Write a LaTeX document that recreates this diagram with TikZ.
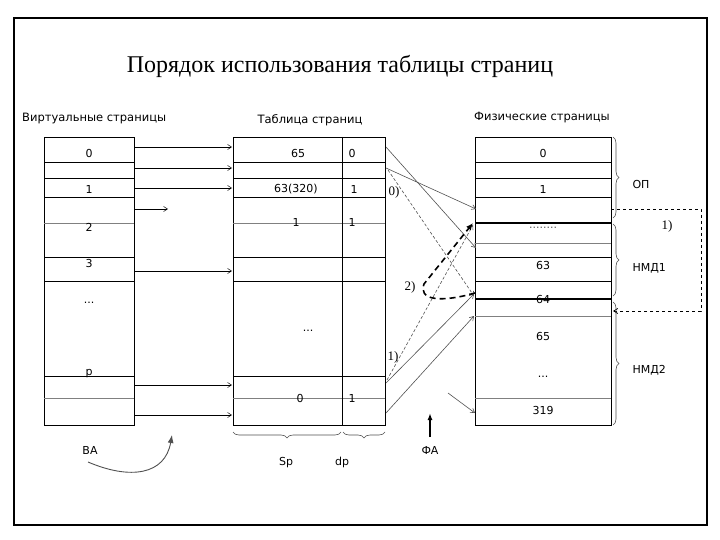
\documentclass[tikz,border=0pt]{standalone}
\usepackage{fontspec}
\setmainfont{DejaVu Sans}
\newfontfamily\titlefont{Liberation Serif}
\usetikzlibrary{positioning, arrows.meta, decorations.pathreplacing}
\definecolor{linegray}{HTML}{505050}

\begin{document}
\begin{tikzpicture}[x=1pt, y=-1pt, font=\fontsize{11}{13}\selectfont,
    row/.style={line width=0.9pt},
    thinrow/.style={line width=0.5pt, gray},
    boldrow/.style={line width=2.6pt},
    lbl/.style={inner sep=0pt, font=\titlefont\fontsize{13}{15}\selectfont},
    link/.style={-{Straight Barb[length=4pt, width=5pt]}, line width=0.5pt},
    cross/.style={-{Straight Barb[length=4pt, width=5pt]}, line width=0.6pt, linegray},
    crossdash/.style={cross, dash pattern=on 3pt off 2pt},
    brc/.style={decorate, decoration={brace, amplitude=6pt}, linegray, line width=0.6pt}]

  \useasboundingbox (0,0) rectangle (720,540);
  \draw[line width=1.2pt] (14,18) rectangle (707,525);

  \node[font=\titlefont\fontsize{24}{28}\selectfont] (title) at (340,66) {Порядок использования таблицы страниц};

  \node[anchor=west, inner sep=0pt, font=\fontsize{11.5}{13}\selectfont] (hvirt) at (22,119) {Виртуальные страницы};
  \node[font=\fontsize{11.5}{13}\selectfont] (htab) at (310,120) {Таблица страниц};
  \node[font=\fontsize{11.5}{13}\selectfont] (hphys) at (542,118) {Физические страницы};

  % virtual pages and page table share the same rows
  \foreach \xa/\xb in {44/134, 233/385}{
    \draw[row] (\xa,137) rectangle (\xb,425);
    \foreach \y in {162,178,197,257,281,376} \draw[row] (\xa,\y) -- (\xb,\y);
    \foreach \y in {223,398} \draw[thinrow] (\xa,\y) -- (\xb,\y);
  }
  \draw[line width=0.6pt] (342,137) -- (342,425);

  \node (vp0) at (89,153) {0};
  \node (vp1) at (89,189) {1};
  \node (vp2) at (89,227) {2};
  \node (vp3) at (89,263) {3};
  \node (vpdots) at (89,303) {...};
  \node (vpp) at (89,374) {p};

  \node (sp0) at (298,153) {65};
  \node (dp0) at (352,153) {0};
  \node (sp1) at (296,189) {63(320)};
  \node (dp1) at (354,189) {1};
  \node (sp2) at (296,222) {1};
  \node (dp2) at (352,222) {1};
  \node (spdots) at (308,331) {...};
  \node (spp) at (300,398) {0};
  \node (dpp) at (352,398) {1};

  % physical pages
  \draw[row] (475,137) rectangle (611,425);
  \foreach \y in {162,178,197,257,281} \draw[row] (475,\y) -- (611,\y);
  \foreach \y in {243,316,398} \draw[thinrow] (475,\y) -- (611,\y);

  \node (pp0) at (543,153) {0};
  \node (pp1) at (543,189) {1};
  \node[gray!70!black] (ppgap) at (543,228) {........};
  \node (pp63) at (543,265) {63};
  \node (pp64) at (543,299) {64};
  \node (pp65) at (543,336) {65};
  \node (ppdots) at (543,377) {...};
  \node (pp319) at (543,410) {319};
  \foreach \y in {223,299} \draw[boldrow] (475,\y) -- (611,\y);

  % virtual page -> table entry
  \foreach \y [count=\i] in {147,168,188,271,385,415}{
    \coordinate (v\i) at (134,\y);
    \coordinate (t\i) at (232,\y);
    \draw[link] (v\i) -- (t\i);
  }
  \coordinate (vfree) at (134,209);
  \coordinate (vfreeend) at (168,209);
  \draw[link] (vfree) -- (vfreeend);

  % table entry -> physical page
  \coordinate (tA) at (386,147);
  \coordinate (tB) at (386,168);
  \coordinate (tC) at (388,170);
  \coordinate (tD) at (387,380);
  \coordinate (tE) at (386,383);
  \coordinate (tF) at (386,413);
  \coordinate (pA) at (476,248);
  \coordinate (pB) at (476,209);
  \coordinate (pC) at (474,296);
  \coordinate (pD) at (473,225);
  \coordinate (pE) at (474,294);
  \coordinate (pF) at (474,316);
  \draw[cross] (tA) -- (pA);
  \draw[cross] (tB) -- (pB);
  \draw[crossdash] (tC) -- (pC);
  \draw[crossdash] (tD) -- (pD);
  \draw[cross] (tE) -- (pE);
  \draw[cross] (tF) -- (pF);

  \coordinate (freeA) at (448,393);
  \coordinate (freeB) at (475,413);
  \draw[cross] (freeA) -- (freeB);

  \coordinate (p64w) at (475,293);
  \coordinate (pgapw) at (473,223);
  \draw[line width=1.6pt, dash pattern=on 6pt off 4pt, -{Latex[length=7pt, width=6pt]}]
    (p64w) .. controls (440,303) and (418,300) .. (424,284) -- (pgapw);

  \node[lbl] (l0) at (394,192) {0)};
  \node[lbl] (l2) at (410,287) {2)};
  \node[lbl] (l1) at (393,357) {1)};

  % swap to disk
  \coordinate (swapA) at (611,209);
  \coordinate (swapB) at (613,311);
  \draw[dashed, line width=0.8pt, -{Straight Barb[length=4pt, width=5pt]}]
    (swapA) -- (701,209) -- (701,311) -- (swapB);
  \node[lbl] (lswap) at (667,226) {1)};

  \draw[brc] (613,137) -- (613,218);
  \draw[brc] (613,224) -- (613,296);
  \draw[brc] (613,302) -- (613,425);
  \node[anchor=west] (op) at (629,184) {ОП};
  \node[anchor=west] (nmd1) at (629,268) {НМД1};
  \node[anchor=west] (nmd2) at (629,370) {НМД2};

  \draw[brc] (341,432) -- (233,432);
  \draw[brc] (385,432) -- (343,432);
  \node[anchor=base] (sp) at (286,465) {Sp};
  \node[anchor=base] (dp) at (342,465) {dp};

  \node[inner sep=0pt] (fa) at (430,450) {ФА};
  \coordinate (faBase) at (430,437);
  \coordinate (faTip) at (430,413);
  \draw[line width=1.4pt, -{Latex[length=7pt, width=5pt]}] (faBase) -- (faTip);

  \node (ba) at (90,450) {ВА};
  \coordinate (baA) at (88,462);
  \coordinate (baB) at (172,435);
  \draw[line width=0.9pt, linegray, -{Latex[length=8pt, width=6pt]}]
    (baA) .. controls (130,480) and (165,475) .. (baB);
\end{tikzpicture}
\end{document}
